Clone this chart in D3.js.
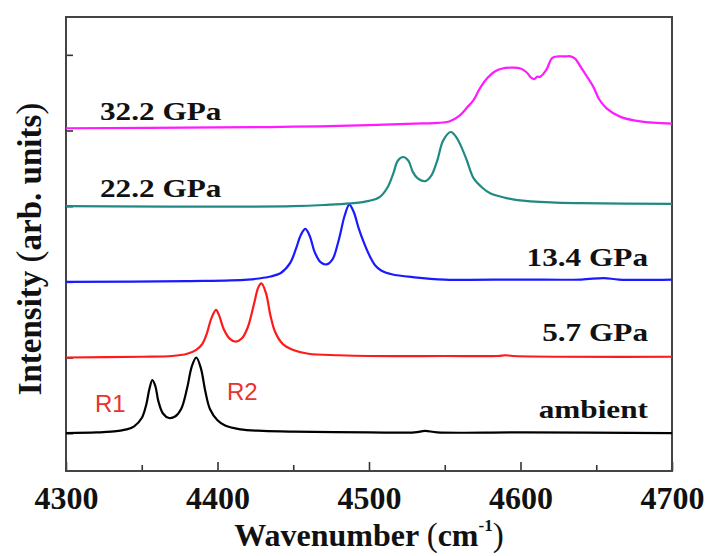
<!DOCTYPE html>
<html>
<head>
<meta charset="utf-8">
<script src="https://cdn.jsdelivr.net/npm/d3@7"></script>
<style>
  body { margin: 0; background: #fff; }
</style>
</head>
<body>
<div id="chart"></div>
<script>
// spectra: [wavenumber, intensity above own baseline]
var ambient = [
  [4300, 0.00], [4320, 0.01], [4330, 0.02], [4340, 0.05], [4345, 0.09], [4350, 0.20],
  [4353, 0.38], [4355, 0.58], [4357, 0.70], [4359, 0.62], [4361, 0.42], [4364, 0.26],
  [4368, 0.20], [4372, 0.22], [4376, 0.32], [4380, 0.60], [4383, 0.88], [4386, 1.00],
  [4389, 0.86], [4392, 0.55], [4395, 0.32], [4400, 0.17], [4405, 0.10], [4415, 0.05],
  [4430, 0.03], [4450, 0.02], [4500, 0.01], [4530, 0.01], [4537, 0.03], [4545, 0.01],
  [4600, 0.01], [4700, 0.00]
];
var gpa57 = [
  [4300, 0.00], [4350, 0.01], [4370, 0.02], [4380, 0.05], [4386, 0.10], [4390, 0.18],
  [4393, 0.32], [4396, 0.52], [4399, 0.63], [4401, 0.56], [4404, 0.38], [4408, 0.25],
  [4412, 0.21], [4416, 0.25], [4420, 0.40], [4424, 0.70], [4427, 0.93], [4429, 0.98],
  [4432, 0.85], [4435, 0.55], [4438, 0.34], [4443, 0.18], [4450, 0.10], [4460, 0.05],
  [4480, 0.03], [4500, 0.02], [4550, 0.02], [4585, 0.02], [4590, 0.03], [4595, 0.02],
  [4700, 0.01]
];
var gpa134 = [
  [4300, 0.00], [4380, 0.01], [4420, 0.03], [4435, 0.07], [4442, 0.12], [4448, 0.25],
  [4452, 0.45], [4455, 0.62], [4458, 0.70], [4461, 0.60], [4464, 0.40], [4468, 0.26],
  [4472, 0.23], [4476, 0.30], [4480, 0.55], [4484, 0.88], [4487, 1.02], [4490, 0.92],
  [4493, 0.72], [4496, 0.55], [4500, 0.36], [4504, 0.22], [4508, 0.15], [4515, 0.10],
  [4530, 0.06], [4550, 0.03], [4600, 0.03], [4640, 0.03], [4655, 0.05], [4665, 0.03],
  [4700, 0.03]
];
var gpa222 = [
  [4300, 0.00], [4450, 0.00], [4474, 0.02], [4490, 0.04], [4500, 0.07], [4507, 0.12],
  [4512, 0.24], [4516, 0.43], [4519, 0.60], [4522.5, 0.65], [4526, 0.60], [4529, 0.45],
  [4532, 0.37], [4537, 0.33], [4541, 0.40], [4545, 0.60], [4549, 0.87], [4554, 0.98],
  [4558, 0.90], [4561, 0.78], [4564.5, 0.61], [4569, 0.37], [4575, 0.24], [4580, 0.17],
  [4590, 0.11], [4598, 0.08], [4620, 0.05], [4640, 0.04], [4700, 0.03]
];
var gpa322 = [
  [4300, 0.00], [4400, 0.01], [4450, 0.02], [4500, 0.04], [4530, 0.06], [4545, 0.07],
  [4553, 0.09], [4560, 0.17], [4565, 0.28], [4569, 0.37], [4573, 0.52], [4578, 0.66],
  [4583, 0.75], [4588, 0.79], [4595, 0.80], [4600, 0.79], [4604, 0.74], [4607, 0.67],
  [4609, 0.65], [4611, 0.68], [4613, 0.68], [4617, 0.77], [4621, 0.93], [4625, 0.95],
  [4630, 0.95], [4633, 0.95], [4636, 0.92], [4641, 0.77], [4648, 0.55], [4652, 0.38],
  [4657, 0.26], [4666, 0.15], [4679, 0.09], [4700, 0.06]
];

var spectra = [ambient, gpa57, gpa134, gpa222, gpa322];
var offsets = [0, 1, 2, 3, 4.03];
var colors = ["#000000", "#ff1a1a", "#1a1aff", "#1f8a84", "#ff1aff"];
var labels = ["ambient", "5.7 GPa", "13.4 GPa", "22.2 GPa", "32.2 GPa"];
var xTicks = [4300, 4400, 4500, 4600, 4700];
var xMinor = [4350, 4450, 4550, 4650];
var yTicks = [0, 1, 2, 3, 4, 5];

var SERIF = "'Liberation Serif'";
var SANS = "'Liberation Sans'";

var width = 707, height = 556;
var margin = { top: 17, right: 35, bottom: 85, left: 66 };
var w = width - margin.left - margin.right;
var h = height - margin.top - margin.bottom;

var svg = d3.select("#chart").append("svg")
    .attr("width", width)
    .attr("height", height);

var g = svg.append("g")
    .attr("transform", "translate(" + margin.left + "," + margin.top + ")");

var x = d3.scaleLinear().domain([4300, 4700]).range([0, w]);
var y = d3.scaleLinear().domain([-0.5, 5.5]).range([h, 0]);

// axes (ticks pointing inward)
var xAxis = g.append("g")
    .attr("transform", "translate(0," + h + ")")
    .call(d3.axisBottom(x).tickValues(xTicks).tickSizeInner(-9).tickSizeOuter(0).tickPadding(12).tickFormat(d3.format("d")));
g.append("g")
    .attr("transform", "translate(0," + h + ")")
    .call(d3.axisBottom(x).tickValues(xMinor).tickSizeInner(-6).tickSizeOuter(0).tickFormat(""));
g.append("g")
    .call(d3.axisLeft(y).tickValues(yTicks).tickSizeInner(-7).tickSizeOuter(0).tickFormat(""));

g.selectAll(".domain").remove();
g.selectAll(".tick line").attr("stroke", "#333").attr("stroke-width", 1.6);
xAxis.selectAll(".tick text")
    .style("font-family", SERIF)
    .style("font-size", "32px")
    .style("font-weight", "bold")
    .attr("fill", "#111")
    .attr("dy", "0.8em");

g.append("rect")
    .attr("width", w)
    .attr("height", h)
    .attr("fill", "none")
    .attr("stroke", "#444")
    .attr("stroke-width", 2);

spectra.forEach(function(s, i) {
  var ln = d3.line()
      .x(function(d) { return x(d[0]); })
      .y(function(d) { return y(d[1] + offsets[i]); })
      .curve(d3.curveCatmullRom.alpha(0.5));
  g.append("path")
      .attr("d", ln(s))
      .attr("fill", "none")
      .attr("stroke", colors[i])
      .attr("stroke-width", 2.2)
      .attr("stroke-linejoin", "round");
});

// pressure labels (wide bold serif)
var labelPos = [
  { x: 582, y: 418, anchor: "end" },
  { x: 582, y: 341, anchor: "end" },
  { x: 582, y: 266, anchor: "end" },
  { x: 34, y: 197, anchor: "start" },
  { x: 34, y: 120, anchor: "start" }
];
labels.forEach(function(t, i) {
  g.append("text")
      .attr("transform", "translate(" + labelPos[i].x + "," + (labelPos[i].y - margin.top) + ") scale(1.25,1)")
      .attr("text-anchor", labelPos[i].anchor)
      .style("font-family", SERIF)
      .style("font-size", "25px")
      .style("font-weight", "bold")
      .attr("fill", "#111")
      .text(t);
});

// R1 / R2
g.append("text").attr("x", 29).attr("y", 412 - margin.top)
    .style("font-family", SANS)
    .style("font-size", "24px").attr("fill", "#e8332e").text("R1");
g.append("text").attr("x", 161).attr("y", 400 - margin.top)
    .style("font-family", SANS)
    .style("font-size", "24px").attr("fill", "#e8332e").text("R2");

// axis titles
var xt = svg.append("text")
    .attr("x", margin.left + w / 2)
    .attr("y", 546)
    .attr("text-anchor", "middle")
    .style("font-family", SERIF)
    .style("font-size", "32px")
    .style("font-weight", "bold")
    .attr("fill", "#111");
xt.append("tspan").text("Wavenumber ");
xt.append("tspan").style("font-weight", "normal").style("font-size", "33px").text("(");
xt.append("tspan").text("cm");
xt.append("tspan").style("font-size", "17px").attr("dy", -15).text("-1");
xt.append("tspan").style("font-weight", "normal").style("font-size", "33px").attr("dy", 15).text(")");

var yt = svg.append("text")
    .attr("transform", "translate(41," + 249 + ") rotate(-90)")
    .attr("text-anchor", "middle")
    .style("font-family", SERIF)
    .style("font-size", "33px")
    .style("font-weight", "bold")
    .attr("fill", "#111");
yt.append("tspan").text("Intensity ");
yt.append("tspan").style("font-weight", "normal").style("font-size", "36px").text("(");
yt.append("tspan").text("arb. units");
yt.append("tspan").style("font-weight", "normal").style("font-size", "36px").text(")");
</script>
</body>
</html>
